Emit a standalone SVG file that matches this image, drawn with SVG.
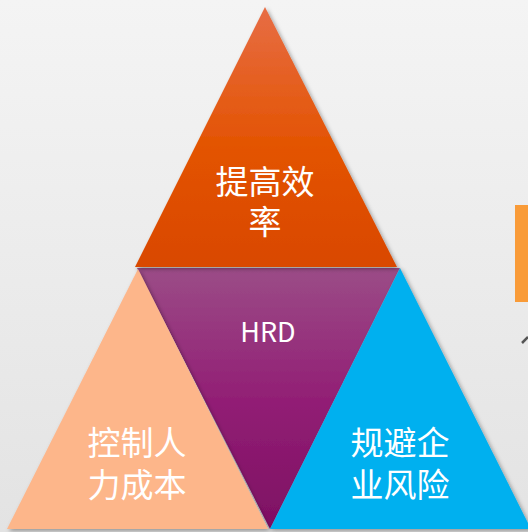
<svg xmlns="http://www.w3.org/2000/svg" width="528" height="532" viewBox="0 0 528 532">
<defs>
<linearGradient id="bg" x1="0" y1="0" x2="0" y2="1">
<stop offset="0" stop-color="#F4F4F4"/>
<stop offset="1" stop-color="#E3E3E3"/>
</linearGradient>
<linearGradient id="gTop" x1="0" y1="0" x2="0" y2="1">
<stop offset="0" stop-color="#E76D45"/>
<stop offset="0.55" stop-color="#E35300"/>
<stop offset="1" stop-color="#D94800"/>
</linearGradient>
<linearGradient id="gMid" x1="0" y1="0" x2="0" y2="1">
<stop offset="0" stop-color="#9B4C87"/>
<stop offset="0.5" stop-color="#921F75"/>
<stop offset="1" stop-color="#7E0F63"/>
</linearGradient>
<filter id="sh" x="-10%" y="-10%" width="120%" height="120%">
<feDropShadow dx="2" dy="2" stdDeviation="2" flood-color="#000" flood-opacity="0.35"/>
</filter>
<style>
.t{font-family:"Noto Sans CJK SC","Noto Sans",sans-serif;fill:#FFFFFF;text-anchor:middle}
.cn{font-size:33px}
.en{font-size:27px}
</style>
</defs>
<rect x="0" y="0" width="528" height="532" fill="url(#bg)"/>
<rect x="515" y="205" width="13" height="97" fill="#F99B38"/>
<line x1="522" y1="343" x2="528" y2="337" stroke="#555" stroke-width="2.5"/>
<g id="hrd">
<polygon points="137,268 400,268 270,529" fill="url(#gMid)" filter="url(#sh)"/>
<text class="t en" x="268" y="342">HRD</text>
</g>
<g id="control-cost">
<polygon points="138,269 268,529 7,529" fill="#FDB68A" filter="url(#sh)"/>
<text class="t cn" x="137" y="455">控制人</text>
<text class="t cn" x="137" y="497">力成本</text>
</g>
<g id="avoid-risk">
<polygon points="400,268 531,529 270,529" fill="#00B0EF" filter="url(#sh)"/>
<text class="t cn" x="400" y="455">规避企</text>
<text class="t cn" x="400" y="497">业风险</text>
</g>
<g id="efficiency">
<polygon points="265,7 397,267 135,267" fill="url(#gTop)" filter="url(#sh)"/>
<text class="t cn" x="265" y="194">提高效</text>
<text class="t cn" x="265" y="234">率</text>
</g>
<g id="connectors"></g>
</svg>
